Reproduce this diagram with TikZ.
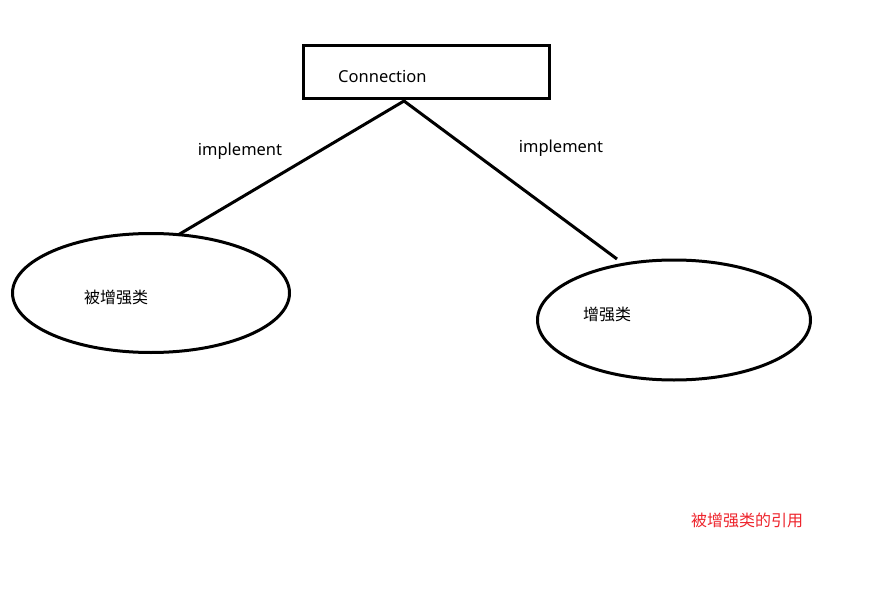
\documentclass[tikz,border=0pt]{standalone}
\usepackage{fontspec}
\setmainfont{Noto Sans}
\newfontfamily\cjk{Noto Sans CJK SC}
\usetikzlibrary{shapes.geometric}
\usetikzlibrary{positioning}
\definecolor{notered}{RGB}{238,36,44}

\begin{document}
\begin{tikzpicture}[x=1pt,y=-1pt,
  thick line/.style={line width=3pt},
  class/.style={draw,ellipse,thick line,inner sep=0pt},
  txt/.style={font=\fontsize{16}{18}\selectfont\cjk,inner sep=0pt}]
\useasboundingbox[fill=white] (0,0) rectangle (876,591);
\node at(426,72.5)[draw,thick line,minimum width=246,minimum height=53,inner sep=0pt](conn){};
\node at(338,77)[txt,anchor=west,font=\fontsize{16.5}{18}\selectfont](conntxt){Connection};
\node at(151,293)[class,minimum width=277,minimum height=119](base){};
\node at(674,320)[class,minimum width=273,minimum height=120](enh){};
\node at(84,297)[txt,anchor=west](basetxt){被增强类};
\node at(583,314)[txt,anchor=west](enhtxt){增强类};
\coordinate (apex) at(404,101);
\coordinate (lend) at(178,235);
\coordinate (rend) at(617,259);
\draw[thick line] (lend) -- (apex) -- (rend);
\node at(240,151)[txt,font=\fontsize{16.5}{18}\selectfont](limpl){implement};
\node at(561,148)[txt,font=\fontsize{16.5}{18}\selectfont](rimpl){implement};
\node at(747,520)[txt,text=notered](ref){被增强类的引用};
\end{tikzpicture}
\end{document}
